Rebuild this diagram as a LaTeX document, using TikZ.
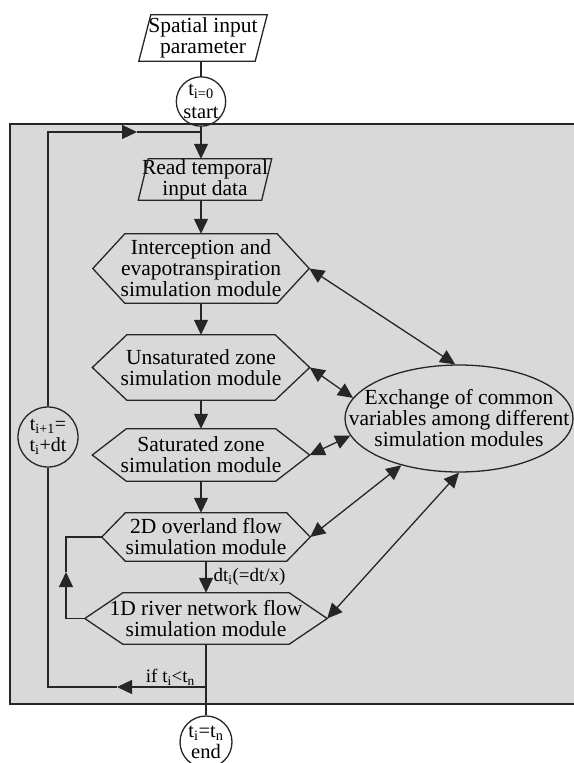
\documentclass[tikz,border=0pt]{standalone}
\usepackage{fontspec}
\setmainfont{Liberation Serif}
\usetikzlibrary{arrows.meta,shapes.geometric,calc,positioning}

\tikzset{
  line/.style={draw=black!85, line width=1.3pt},
  arr/.style={line, -{Triangle[length=15pt,width=14pt]}},
  darr/.style={line, {Triangle[length=15pt,width=14pt]}-{Triangle[length=15pt,width=14pt]}},
  txt/.style={font=\fontsize{21.5}{21}\selectfont, align=center, inner xsep=-30pt, inner ysep=0pt},
  lbl/.style={font=\fontsize{19}{19}\selectfont, inner sep=1pt},
  ring/.style={circle, line, inner sep=0pt, align=center, font=\fontsize{20.5}{23}\selectfont},
}

% hexagon outline round a text node: node name, depth of the tips
\newcommand{\hexshape}[2]{%
  \draw[line] (#1.north west) -- (#1.north east) -- ($(#1.east)+(#2,0)$) coordinate (#1-r)
    -- (#1.south east) -- (#1.south west) -- ($(#1.west)-(#2,0)$) coordinate (#1-l) -- cycle;}
% parallelogram outline round a text node: node name, half slant
\newcommand{\slantshape}[2]{%
  \draw[line] ($(#1.north west)+(#2,0)$) -- ($(#1.north east)+(#2,0)$)
    -- ($(#1.south east)-(#2,0)$) -- ($(#1.south west)-(#2,0)$) -- cycle;}

\begin{document}
\begin{tikzpicture}[x=1pt, y=-1pt]
  \useasboundingbox (0,0) rectangle (573,763);

  % grey frame of the time loop
  \fill[black!15] (10,124) rectangle (578,704);
  \draw[black!85, line width=2pt] (578,124) -- (10,124) -- (10,704) -- (578,704);

  % input, start and end
  \node[txt, minimum width=116pt, minimum height=46pt] (spatial) at (203,38) {Spatial input\\parameter};
  \slantshape{spatial}{6}
  \node[ring, minimum size=44pt] (start) at (201,101.5) {t\textsubscript{i=0}\\start};
  \node[ring, minimum size=52pt, font=\fontsize{20.5}{21}\selectfont] (stop) at (206,742) {t\textsubscript{i}=t\textsubscript{n}\\end};
  \node[ring, minimum size=60pt, font=\fontsize{20}{21}\selectfont] (update) at (48,437) {t\textsubscript{i+1}=\\t\textsubscript{i}+dt};

  % modules
  \node[txt, minimum width=123pt, minimum height=41pt] (read) at (205,179.5) {Read temporal\\input data};
  \slantshape{read}{5}
  \node[txt, minimum width=152pt, minimum height=69pt] (interc) at (201,268.5) {Interception and\\evapotranspiration\\simulation module};
  \hexshape{interc}{32}
  \node[txt, minimum width=148pt, minimum height=65pt] (unsat) at (201,367.5) {Unsaturated zone\\simulation module};
  \hexshape{unsat}{34.5}
  \node[txt, minimum width=149pt, minimum height=52pt] (sat) at (201,455) {Saturated zone\\simulation module};
  \hexshape{sat}{34}
  \node[txt, minimum width=161pt, minimum height=48pt] (overland) at (206,537) {2D overland flow\\simulation module};
  \hexshape{overland}{23.5}
  \node[txt, minimum width=166pt, minimum height=51pt] (river) at (206,618.5) {1D river network flow\\simulation module};
  \hexshape{river}{38}

  \node[ellipse, line, txt, minimum width=228pt, minimum height=107pt] (exch) at (459,418.5)
    {Exchange of common\\variables among different\\simulation modules};

  % helper points of the loops
  \coordinate (topjoin) at (201,132);
  \coordinate (toptip) at (137,132);
  \coordinate (downjoin) at (206,687);
  \coordinate (downtip) at (117,687);
  \coordinate (looptip) at (66,572);

  % main flow
  \draw[line] (spatial.south -| start.north) -- (start);
  \draw[arr] (start) -- (start |- read.north);
  \draw[arr] (interc.north |- read.south) -- (interc.north);
  \draw[arr] (interc) -- (unsat);
  \draw[arr] (unsat) -- (sat);
  \draw[arr] (sat.south) -- (sat.south |- overland.north);
  \draw[arr] (overland) -- node[right, lbl, xshift=6pt] {dt\textsubscript{i}(=dt/x)} (river);
  \draw[line] (river) -- (stop);

  % time loop
  \draw[arr] (downjoin) -- node[above, lbl, pos=0.4] {if t\textsubscript{i}<t\textsubscript{n}} (downtip);
  \draw[line] (downtip) -| (update);
  \draw[arr] (update) |- (toptip);
  \draw[line] (toptip) -- (topjoin);

  % overland -- river loop
  \draw[arr] (river-l) -| (looptip);
  \draw[line] (looptip) |- (overland-l);

  % exchange of variables
  \draw[darr] (interc-r) -- (exch.94);
  \draw[darr] (unsat-r) -- (exch.169);
  \draw[darr] (sat-r) -- (exch.189);
  \draw[darr] (overland-r) -- (exch.219);
  \draw[darr] (river-r) -- (exch.270);
\end{tikzpicture}
\end{document}
